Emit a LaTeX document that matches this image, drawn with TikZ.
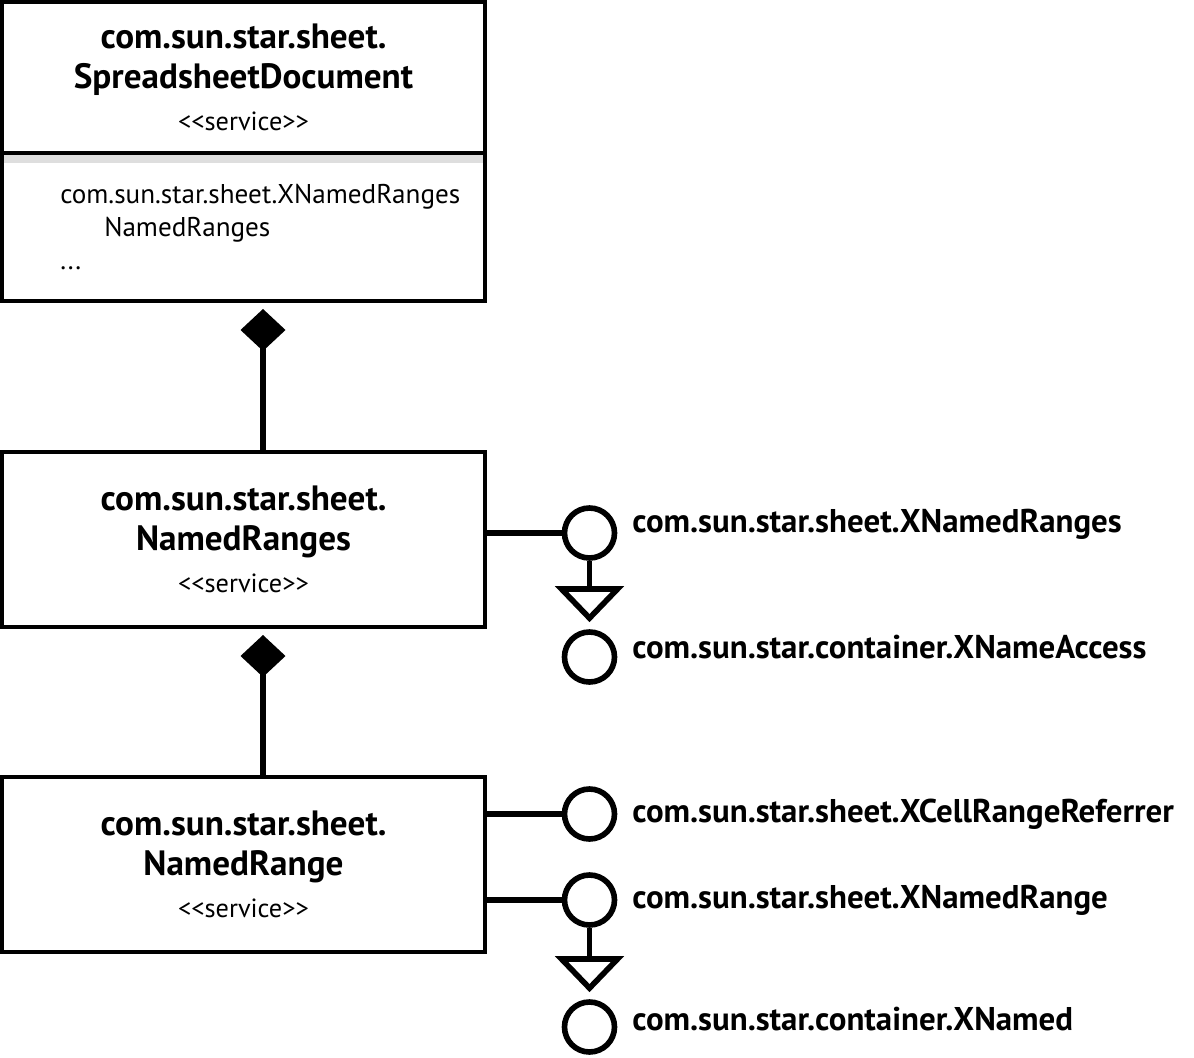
\documentclass[tikz,border=0pt]{standalone}
\usepackage{fontspec}
\setmainfont{PT Sans}
\usetikzlibrary{arrows.meta,positioning,backgrounds}

\newcommand{\svcfont}{\fontsize{25}{28}\selectfont\bfseries}
\newcommand{\stereo}{{\fontsize{18.7}{18}\mdseries\selectfont <{}<service>{}>}}

\begin{document}
\begin{tikzpicture}[
    svcbox/.style={draw, line width=2.8pt, minimum width=12.075cm, align=center, inner sep=0pt, outer sep=0pt, font=\svcfont},
    lollipop/.style={circle, draw, line width=4pt, minimum size=1.25cm, inner sep=0pt},
    ifname/.style={anchor=base west, inner sep=0pt, font=\fontsize{23.4}{26}\selectfont\bfseries},
    link/.style={line width=4pt},
    owns/.style={link, -{Diamond[length=1.05cm, width=1.125cm, line width=0pt]}, shorten >=0.2cm},
    extends/.style={link, -{Triangle[open, length=0.9cm, width=1.7cm]}, shorten >=0.175cm},
]
\useasboundingbox (0,0) rectangle (29.85,-26.45);
% SpreadsheetDocument
\node[svcbox, minimum height=3.775cm] (docsvc) at (6.0875,-1.9375) {com.sun.star.sheet.\\SpreadsheetDocument\\[2pt]\stereo};
\node[svcbox, minimum height=3.7cm, below=0pt of docsvc] (docattr) {};
\node[anchor=north west, align=left, inner sep=0pt, font=\fontsize{19.3}{23.5}\selectfont] (docprops) at (1.5,-4.6)
    {com.sun.star.sheet.XNamedRanges\\\hspace*{1.1cm}NamedRanges\\...};
\begin{scope}[on background layer]
\fill[black!13] ([yshift=-1.4pt]docattr.north west) rectangle ([yshift=-0.26cm]docattr.north east);
\end{scope}
% NamedRanges
\node[svcbox, minimum height=4.375cm] (nrsvc) at (6.0875,-13.4875) {com.sun.star.sheet.\\NamedRanges\\[2pt]\stereo};
\node[lollipop] (xnr) at (14.7375,-13.325) {};
\node[lollipop] (xna) at (14.7375,-16.425) {};
\node[ifname] (xnrlab) at (15.8,-13.3) {com.sun.star.sheet.XNamedRanges};
\node[ifname] (xnalab) at (15.8,-16.45) {com.sun.star.container.XNameAccess};
% NamedRange
\node[svcbox, minimum height=4.375cm] (nrgsvc) at (6.0875,-21.6125) {com.sun.star.sheet.\\NamedRange\\[2pt]\stereo};
\node[lollipop] (xcrr) at (14.7375,-20.35) {};
\node[lollipop] (xnrg) at (14.7375,-22.5) {};
\node[lollipop] (xnm) at (14.7375,-25.675) {};
\node[ifname] (xcrrlab) at (15.8,-20.55) {com.sun.star.sheet.XCellRangeReferrer};
\node[ifname] (xnrglab) at (15.8,-22.7) {com.sun.star.sheet.XNamedRange};
\node[ifname] (xnmlab) at (15.8,-25.75) {com.sun.star.container.XNamed};
% composition
\draw[owns] ([xshift=0.4875cm]nrsvc.north) -- ([xshift=0.4875cm]docattr.south);
\draw[owns] ([xshift=0.4875cm]nrgsvc.north) -- ([xshift=0.4875cm]nrsvc.south);
% interfaces
\draw[link] (nrsvc.east |- xnr) -- (xnr);
\draw[link] (nrgsvc.east |- xcrr) -- (xcrr);
\draw[link] (nrgsvc.east |- xnrg) -- (xnrg);
\draw[extends] (xnr.south) -- (xna.north);
\draw[extends] (xnrg.south) -- (xnm.north);
\end{tikzpicture}
\end{document}
